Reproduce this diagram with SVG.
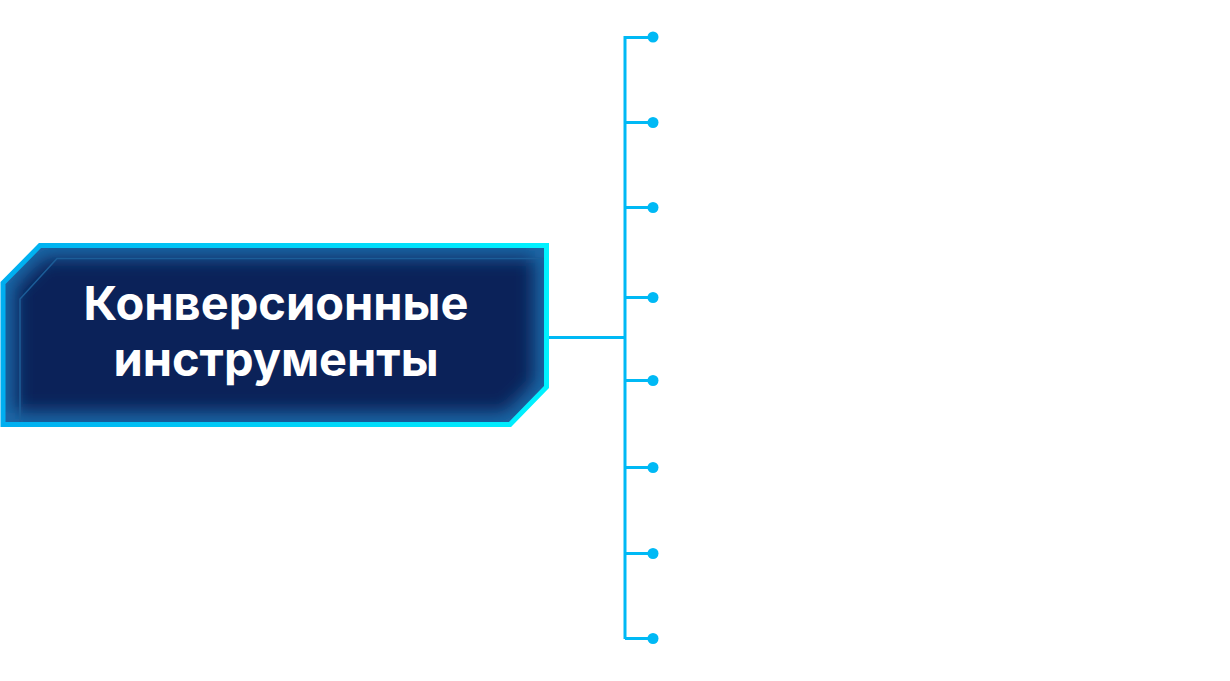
<svg xmlns="http://www.w3.org/2000/svg" width="1230" height="681" viewBox="0 0 1230 681">
  <defs>
    <style>
      .conn { stroke: #00b9f5; stroke-width: 3; fill: none; }
      .dot { fill: #00b9f5; }
      .title { font-family: Inter, Roboto, "Liberation Sans", sans-serif; font-weight: 700; font-size: 47px; fill: #ffffff; text-anchor: middle; }
    </style>
    <linearGradient id="border" x1="0" y1="0" x2="1" y2="0">
      <stop offset="0" stop-color="#00aef0"/>
      <stop offset="1" stop-color="#00f2ff"/>
    </linearGradient>
    <clipPath id="boxClip">
      <path d="M 3,283 L 40,245.5 L 546.5,245.5 L 546.5,387 L 510,424.5 L 3,424.5 Z"/>
    </clipPath>
    <filter id="blur" x="-10%" y="-30%" width="120%" height="160%">
      <feGaussianBlur stdDeviation="9"/>
    </filter>
  </defs>
  <rect width="1230" height="681" fill="#ffffff"/>
  <g id="connectors">
    <line class="conn" x1="548" y1="337.5" x2="625" y2="337.5"/>
    <line class="conn" x1="625" y1="36" x2="625" y2="639"/>
    <line class="conn" x1="625" y1="37.5" x2="653" y2="37.5"/>
    <line class="conn" x1="625" y1="122.5" x2="653" y2="122.5"/>
    <line class="conn" x1="625" y1="207.5" x2="653" y2="207.5"/>
    <line class="conn" x1="625" y1="297.5" x2="653" y2="297.5"/>
    <line class="conn" x1="625" y1="380.5" x2="653" y2="380.5"/>
    <line class="conn" x1="625" y1="467.5" x2="653" y2="467.5"/>
    <line class="conn" x1="625" y1="553.5" x2="653" y2="553.5"/>
    <line class="conn" x1="625" y1="638.5" x2="653" y2="638.5"/>
    <circle class="dot" cx="653" cy="37" r="5.5"/>
    <circle class="dot" cx="653" cy="122.5" r="5.5"/>
    <circle class="dot" cx="653" cy="207.5" r="5.5"/>
    <circle class="dot" cx="653" cy="297.5" r="5.5"/>
    <circle class="dot" cx="653" cy="380.5" r="5.5"/>
    <circle class="dot" cx="653" cy="467.5" r="5.5"/>
    <circle class="dot" cx="653" cy="553.5" r="5.5"/>
    <circle class="dot" cx="653" cy="638.5" r="5.5"/>
  </g>
  <g id="node-main">
    <path d="M 3,283 L 40,245.5 L 546.5,245.5 L 546.5,387 L 510,424.5 L 3,424.5 Z" fill="#0b2259"/>
    <g clip-path="url(#boxClip)">
      <path d="M 3,283 L 40,245.5 L 546.5,245.5 L 546.5,387 L 510,424.5 L 3,424.5 Z" fill="none" stroke="#1a6aaa" stroke-width="24" filter="url(#blur)"/>
    </g>
    <path d="M 20,424 L 20,299 L 57,258.5 L 546,258.5" fill="none" stroke="#1c5d98" stroke-width="1.5"/>
    <path d="M 3,283 L 40,245.5 L 546.5,245.5 L 546.5,387 L 510,424.5 L 3,424.5 Z" fill="none" stroke="url(#border)" stroke-width="5"/>
    <text class="title" x="276" y="320">Конверсионные</text>
    <text class="title" x="276" y="376">инструменты</text>
  </g>
</svg>
